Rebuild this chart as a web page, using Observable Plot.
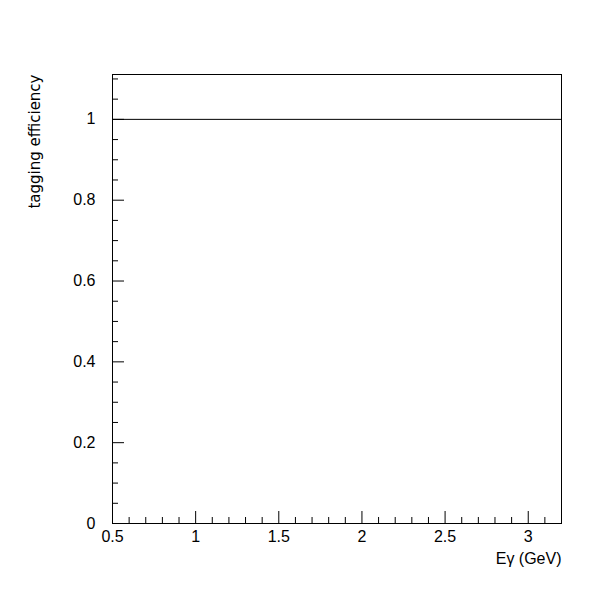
<!DOCTYPE html>
<html>
<head>
<meta charset="utf-8">
<script src="https://cdn.jsdelivr.net/npm/d3@7"></script>
<script src="https://cdn.jsdelivr.net/npm/@observablehq/plot@0.6"></script>
<style>
  html, body { margin: 0; padding: 0; background: #fff; }
  #chart { width: 600px; height: 600px; }
</style>
</head>
<body>
<div id="chart"></div>
<script>
// Data
const energy = [0.5, 3.2];            // E_gamma (GeV)
const efficiency = [1, 1];            // tagging efficiency
const xMajorTicks = [0.5, 1, 1.5, 2, 2.5, 3];
const xMinorTicks = [0.6, 0.7, 0.8, 0.9, 1.1, 1.2, 1.3, 1.4, 1.6, 1.7, 1.8, 1.9, 2.1, 2.2, 2.3, 2.4, 2.6, 2.7, 2.8, 2.9, 3.1];
const yMajorTicks = [0, 0.2, 0.4, 0.6, 0.8, 1];
const yMinorTicks = [0.05, 0.1, 0.15, 0.25, 0.3, 0.35, 0.45, 0.5, 0.55, 0.65, 0.7, 0.75, 0.85, 0.9, 0.95, 1.05, 1.1];
const xTitle = "Eγ (GeV)";
const yTitle = "tagging efficiency";

const data = energy.map((e, i) => ({energy: e, efficiency: efficiency[i]}));

const chart = Plot.plot({
  width: 600,
  height: 600,
  marginLeft: 112,
  marginRight: 39,
  marginTop: 74,
  marginBottom: 77,
  style: {fontFamily: "'Liberation Sans', Arial, sans-serif", fontSize: "16px", color: "black", background: "white"},
  x: {domain: [0.5, 3.2]},
  y: {domain: [0, 1.111]},
  marks: [
    Plot.frame({stroke: "black", strokeWidth: 1}),
    Plot.axisX({ticks: xMajorTicks, tickSize: -12, strokeWidth: 1, strokeOpacity: 1, text: null, label: null}),
    Plot.axisX({ticks: xMinorTicks, tickSize: -6, strokeWidth: 1, strokeOpacity: 1, text: null, label: null}),
    Plot.axisX({ticks: xMajorTicks, tickSize: 0, tickPadding: 7, tickFormat: d => String(d), fontSize: 16, label: null}),
    Plot.axisY({ticks: yMajorTicks, tickSize: -12, strokeWidth: 1, strokeOpacity: 1, text: null, label: null}),
    Plot.axisY({ticks: yMinorTicks, tickSize: -6, strokeWidth: 1, strokeOpacity: 1, text: null, label: null}),
    Plot.axisY({ticks: yMajorTicks, tickSize: 0, tickPadding: 17, tickFormat: d => String(d), fontSize: 16, label: null}),
    Plot.line(data, {x: "energy", y: "efficiency", stroke: "black", strokeWidth: 1}),
    Plot.text([xTitle], {frameAnchor: "bottom-right", text: d => d, dy: 40, dx: 0, fontSize: 16, textAnchor: "end"}),
    Plot.text([yTitle], {frameAnchor: "top-left", text: d => d, rotate: -90, dx: -83, dy: 0, fontSize: 15, fontFamily: "'DejaVu Sans', sans-serif", textAnchor: "end"})
  ]
});
document.getElementById("chart").appendChild(chart);
</script>
</body>
</html>
